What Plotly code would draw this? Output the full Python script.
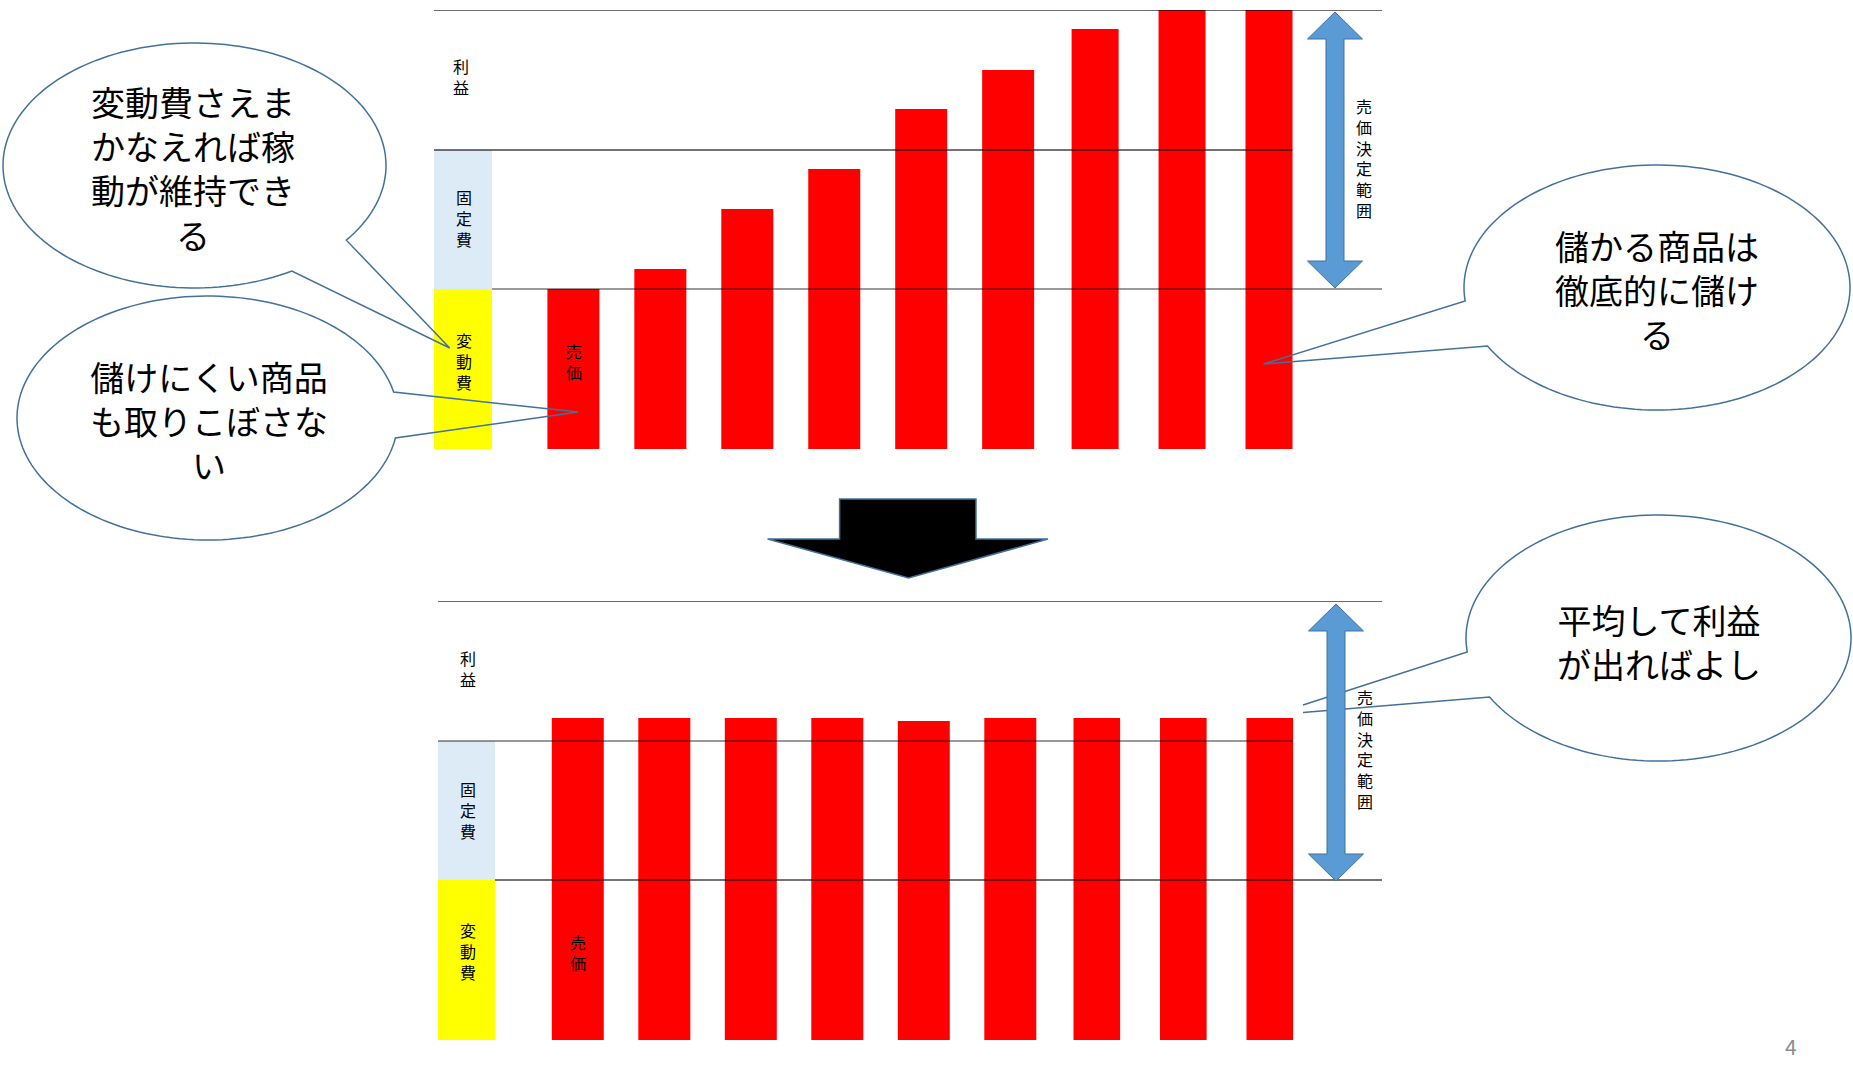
import math
import plotly.graph_objects as go

# ---------------- data ----------------
PRODUCTS = ["商品1", "商品2", "商品3", "商品4", "商品5", "商品6", "商品7", "商品8", "商品9"]
VARIABLE_COST = 160      # 変動費 band height
FIXED_COST = 139         # 固定費 band height
PROFIT_BAND = 140        # 利益 band height
PRICE_BEFORE = [160, 180, 240, 280, 340, 379, 420, 439, 439]
PRICE_AFTER = [322, 322, 322, 322, 319, 322, 322, 322, 322]
BAND_LABELS = ["利益", "固定費", "変動費"]
PRICE_LABEL = "売価"
RANGE_LABEL = "売価決定範囲"
CALLOUT_TEXTS = [
    "変動費さえま<br>かなえれば稼<br>動が維持でき<br>る",
    "儲けにくい商品<br>も取りこぼさな<br>い",
    "儲かる商品は<br>徹底的に儲け<br>る",
    "平均して利益<br>が出ればよし",
]
PAGE_NO = "4"

# ---------------- geometry / style ----------------
W, H = 1853, 1076
FONT = "Noto Sans CJK JP"
RED = "#FF0000"
YELLOW = "#FFFF00"
LIGHTBLUE = "#DDEBF7"
ARROW_FILL = "#5B9BD5"
ARROW_LINE = "#41719C"
CALLOUT_LINE = "#41719C"
TOTAL = VARIABLE_COST + FIXED_COST + PROFIT_BAND


def P(x, y):
    return x / W, 1 - y / H


def pts_path(points, close=True):
    s = ""
    for i, (x, y) in enumerate(points):
        px_, py_ = P(x, y)
        s += ("M" if i == 0 else "L") + f"{px_:.5f},{py_:.5f} "
    if close:
        s += "Z"
    return s


def vtext(s):
    return "<br>".join(list(s))


fig = go.Figure()

# two panels: axis extent in px, first-bar center, bar spacing, vertical extent
panels = [
    dict(xa="x", ya="y", xl=434, xr=1382, c0=573.4, step=86.95, yt=10, yb=449,
         prices=PRICE_BEFORE, boxl=434, boxr=492, wide=52.0, narrow=47.0),
    dict(xa="x2", ya="y2", xl=438, xr=1382, c0=577.8, step=86.5, yt=601, yb=1040,
         prices=PRICE_AFTER, boxl=438, boxr=495, wide=52.0, narrow=46.6),
]

shapes = []
annotations = []

for k, pn in enumerate(panels):
    widths = [pn["wide"] / pn["step"]] * 6 + [pn["narrow"] / pn["step"]] * 3
    fig.add_trace(go.Bar(
        x=PRODUCTS, y=pn["prices"], xaxis=pn["xa"], yaxis=pn["ya"],
        width=widths, marker=dict(color=RED, line=dict(width=0)),
        showlegend=False, hoverinfo="skip",
    ))
    axn = "" if k == 0 else "2"
    rl = (pn["xl"] - pn["c0"]) / pn["step"]
    rr = (pn["xr"] - pn["c0"]) / pn["step"]
    fig.layout["xaxis" + axn] = dict(
        domain=[pn["xl"] / W, pn["xr"] / W], range=[rl, rr], visible=False,
        anchor="y" + axn, type="category", fixedrange=True)
    fig.layout["yaxis" + axn] = dict(
        domain=[1 - pn["yb"] / H, 1 - pn["yt"] / H], range=[0, TOTAL], visible=False,
        anchor="x" + axn, fixedrange=True)

    yref = pn["ya"]
    # cost-structure column
    shapes.append(dict(type="rect", xref="paper", yref=yref,
                       x0=pn["boxl"] / W, x1=pn["boxr"] / W, y0=0, y1=VARIABLE_COST,
                       fillcolor=YELLOW, line=dict(width=0), layer="below"))
    shapes.append(dict(type="rect", xref="paper", yref=yref,
                       x0=pn["boxl"] / W, x1=pn["boxr"] / W, y0=VARIABLE_COST,
                       y1=VARIABLE_COST + FIXED_COST,
                       fillcolor=LIGHTBLUE, line=dict(width=0), layer="below"))
    # horizontal band lines
    thick = dict(color="rgba(0,0,0,0.55)", width=2.2)
    thin = dict(color="rgba(0,0,0,0.8)", width=1.2)
    last_bar_right = pn["c0"] + 8 * pn["step"] + pn["narrow"] / 2
    shapes.append(dict(type="line", xref="paper", yref=yref, x0=pn["xl"] / W, x1=pn["xr"] / W,
                       y0=TOTAL, y1=TOTAL, line=dict(color="rgba(0,0,0,0.78)", width=1.4),
                       layer="above"))
    shapes.append(dict(type="line", xref="paper", yref=yref, x0=pn["xl"] / W,
                       x1=last_bar_right / W,
                       y0=VARIABLE_COST + FIXED_COST, y1=VARIABLE_COST + FIXED_COST,
                       line=thick if k == 0 else thin, layer="above"))
    shapes.append(dict(type="line", xref="paper", yref=yref, x0=pn["boxr"] / W, x1=pn["xr"] / W,
                       y0=VARIABLE_COST, y1=VARIABLE_COST,
                       line=thin if k == 0 else thick, layer="above"))

# ---------------- callouts ----------------
def callout(cx, cy, rx, ry, a, b, tip1, tip2):
    ta = math.atan2((a[1] - cy) / ry, (a[0] - cx) / rx)
    tb = math.atan2((b[1] - cy) / ry, (b[0] - cx) / rx)
    d = (tb - ta) % (2 * math.pi)
    if d < math.pi:
        d -= 2 * math.pi
    n = 160
    arc = [(cx + rx * math.cos(ta + d * i / n), cy + ry * math.sin(ta + d * i / n))
           for i in range(n + 1)]
    pts = [tip1] + arc + [tip2]
    return dict(type="path", xref="paper", yref="paper", path=pts_path(pts, close=False),
                line=dict(color=CALLOUT_LINE, width=1.5), fillcolor="rgba(0,0,0,0)",
                layer="above")


callouts = [
    dict(c=(194.5, 165.5, 191.5, 122.5), a=(346, 240), b=(291.6, 270.7),
         t1=(449.7, 348), t2=(449.7, 348), txt=(193, 168)),
    dict(c=(207.5, 418, 190.5, 122), a=(396, 391.7), b=(398, 438.3),
         t1=(578, 412), t2=(578, 412), txt=(208.6, 420)),
    dict(c=(1657, 287.5, 193, 122.5), a=(1466, 301), b=(1487.7, 346),
         t1=(1263.5, 364), t2=(1263.5, 364), txt=(1657, 290)),
    dict(c=(1658.5, 638, 192.5, 123), a=(1467, 652), b=(1489.6, 697),
         t1=(1303, 705), t2=(1303, 712.5), txt=(1659, 641)),
]
for co, text in zip(callouts, CALLOUT_TEXTS):
    shapes.append(callout(*co["c"], co["a"], co["b"], co["t1"], co["t2"]))
    tx, ty = P(*co["txt"])
    annotations.append(dict(x=tx, y=ty, xref="paper", yref="paper", text=text,
                            showarrow=False, xanchor="center", yanchor="middle",
                            align="center", font=dict(family=FONT, size=34, color="black")))

# ---------------- blue double arrows ----------------
def double_arrow(cx, ytop, ybot, head=27, hw=27.5, sw=9):
    pts = [(cx, ytop), (cx + hw, ytop + head), (cx + sw, ytop + head), (cx + sw, ybot - head),
           (cx + hw, ybot - head), (cx, ybot), (cx - hw, ybot - head), (cx - sw, ybot - head),
           (cx - sw, ytop + head), (cx - hw, ytop + head)]
    return dict(type="path", xref="paper", yref="paper", path=pts_path(pts),
                fillcolor=ARROW_FILL, line=dict(color=ARROW_LINE, width=1), layer="above")


shapes.append(double_arrow(1335, 12, 288))
shapes.append(double_arrow(1336, 604, 881))

# ---------------- black down arrow ----------------
shapes.append(dict(type="path", xref="paper", yref="paper",
                   path=pts_path([(839.6, 499), (976, 499), (976, 539), (1048, 539),
                                  (908.5, 578), (767.6, 539), (839.6, 539)]),
                   fillcolor="black", line=dict(color=ARROW_LINE, width=1.5), layer="above"))

# ---------------- vertical labels ----------------
label_pos = [
    # (text, x px, y px)
    (BAND_LABELS[0], 461, 76), (BAND_LABELS[1], 464, 218), (BAND_LABELS[2], 464, 361),
    (PRICE_LABEL, 574, 362), (RANGE_LABEL, 1364, 158),
    (BAND_LABELS[0], 468, 668), (BAND_LABELS[1], 468, 810), (BAND_LABELS[2], 468, 951),
    (PRICE_LABEL, 578, 952), (RANGE_LABEL, 1365, 749),
]
for text, x, y in label_pos:
    px_, py_ = P(x, y)
    annotations.append(dict(x=px_, y=py_, xref="paper", yref="paper", text=vtext(text),
                            showarrow=False, xanchor="center", yanchor="middle",
                            font=dict(family=FONT, size=16, color="black")))

px_, py_ = P(1791, 1046)
annotations.append(dict(x=px_, y=py_, xref="paper", yref="paper", text=PAGE_NO,
                        showarrow=False, xanchor="center", yanchor="middle",
                        font=dict(family=FONT, size=21, color="#8C8C8C")))

fig.update_layout(
    width=W, height=H, margin=dict(l=0, r=0, t=0, b=0, pad=0),
    paper_bgcolor="white", plot_bgcolor="rgba(0,0,0,0)",
    shapes=shapes, annotations=annotations, showlegend=False,
    font=dict(family=FONT),
)

fig.write_html("out.html", config={"displayModeBar": False},
               post_script="document.body.style.margin='0';document.body.style.overflow='hidden';")
